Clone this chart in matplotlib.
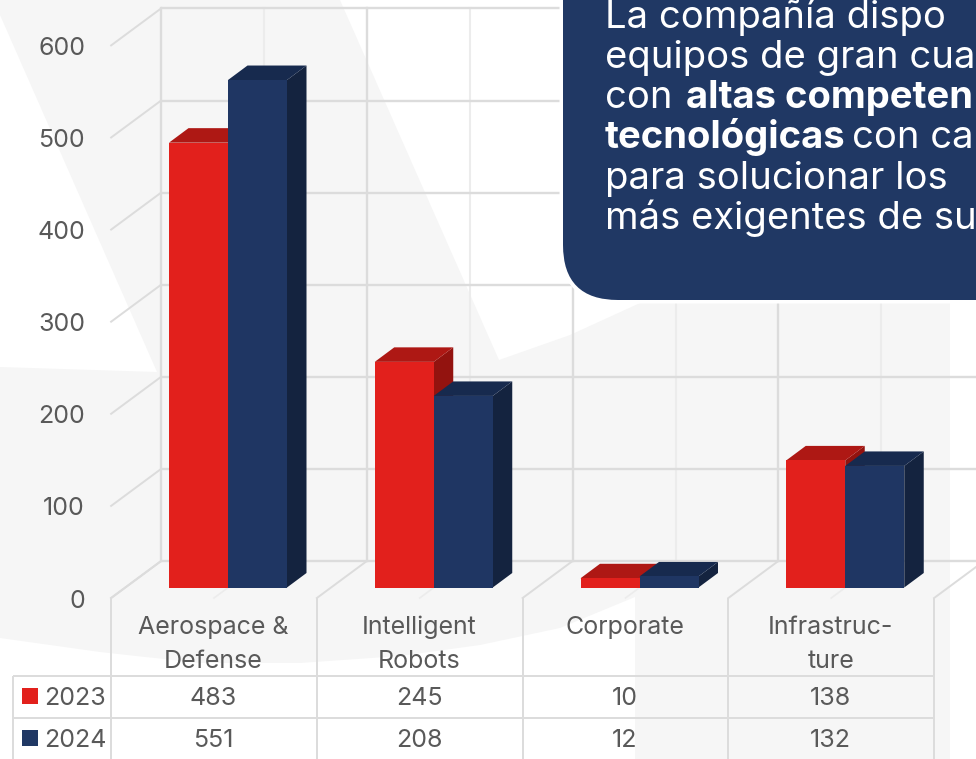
import matplotlib
matplotlib.use("Agg")
import matplotlib.pyplot as plt
import numpy as np
from matplotlib.patches import FancyBboxPatch, Polygon

# ---------- data ----------
categories = ["Aerospace &\nDefense", "Intelligent\nRobots", "Corporate", "Infrastruc-\nture"]
series_names = ["2023", "2024"]
values_2023 = [483, 245, 10, 138]
values_2024 = [551, 208, 12, 132]
y_ticks = [0, 100, 200, 300, 400, 500, 600]

W, H = 976, 759
C_GRID = "#dcdcdc"
C_MINOR = "#ececec"
C_TEXT = "#595959"
C_BG = "#f6f6f6"
NAVY = "#203864"
FONT = "Inter"
PX = 72 / 100  # points per pixel
FS = 25 * PX

fig = plt.figure(figsize=(W / 100, H / 100), dpi=100, facecolor="white")

# ---------- decorative background, in pixel coordinates ----------
bg = fig.add_axes([0, 0, 1, 1], zorder=0)
bg.set_xlim(0, W); bg.set_ylim(H, 0); bg.axis("off")
verts = [(0, 0), (340, 0), (499, 360), (570, 335), (640, 303), (950, 303), (950, 759), (635, 759),
         (635, 597), (560, 628), (480, 645), (400, 656), (300, 663), (200, 663), (100, 652), (0, 638),
         (0, 367), (157, 372), (0, 15), (0, 0)]
bg.add_patch(Polygon(verts, closed=True, fc=C_BG, ec="none"))

# ---------- chart axes: x in category units, y in value units ----------
X0, XU = 214.0, 205.75      # pixel of category 0, pixels per category
Y0, YU = 587.5, 0.921       # pixel of value 0, pixels per value
ax = fig.add_axes([0, 0, 1, 1], zorder=1)
ax.patch.set_alpha(0)
ax.set_xlim((0 - X0) / XU, (W - X0) / XU)
ax.set_ylim((Y0 - H) / YU, (Y0 - 0) / YU)
ax.axis("off")

px_x = lambda p: p / XU     # pixel length -> category units
px_y = lambda p: p / YU     # pixel length -> value units

n = len(categories)
WALL_DX = px_x(50)
BACK_UP = px_y(Y0 - 561)    # value-0 line on the back wall, relative to bar base
FRONT_DN = px_y(598 - Y0)   # value-0 line at the front edge
xl = -0.5
xr_lim = ax.get_xlim()[1]
top_v = max(y_ticks) + BACK_UP

lw_major = 1.7
# back wall
for t in y_ticks:
    ax.plot([xl + WALL_DX, xr_lim], [t + BACK_UP] * 2, color=C_GRID, lw=lw_major, zorder=1, solid_capstyle="butt")
    ax.plot([xl, xl + WALL_DX], [t - FRONT_DN, t + BACK_UP], color=C_GRID, lw=1.4, zorder=1)
for i in range(n + 1):
    ax.plot([xl + i + WALL_DX] * 2, [BACK_UP, top_v], color=C_GRID, lw=lw_major, zorder=1)
    ax.plot([xl + i + 0.5 + WALL_DX] * 2, [BACK_UP, top_v], color=C_MINOR, lw=1.5, zorder=0.9)
    ax.plot([xl + i, xl + i + WALL_DX], [-FRONT_DN, BACK_UP], color=C_GRID, lw=1.4, zorder=1)
    ax.plot([xl + i + 0.5, xl + i + 0.5 + WALL_DX], [-FRONT_DN, BACK_UP], color=C_MINOR, lw=1.2, zorder=0.9)

# ---------- 3D bars ----------
BAR_W = 59 / XU
DX, DY = px_x(19.5), px_y(14.5)
OFFSET = 14 / XU
styles = [("#e2201c", "#ae1814", "#93130f"), ("#1f3663", "#172a4e", "#14233f")]
for k, vals in enumerate([values_2023, values_2024]):
    front, top, side = styles[k]
    for i, v in enumerate(vals):
        x0 = i + OFFSET - BAR_W + k * BAR_W
        x1 = x0 + BAR_W
        z = 3 + k + i * 0.01
        ax.fill([x1, x1 + DX, x1 + DX, x1], [0, DY, v + DY, v], color=side, lw=0, zorder=z)
        ax.fill([x0, x1, x1 + DX, x0 + DX], [v, v, v + DY, v + DY], color=top, lw=0, zorder=z)
        ax.bar(x0, v, width=BAR_W, align="edge", color=front, lw=0, zorder=z + 0.001)

# y tick labels on the front edge of the side wall
for t in y_ticks:
    ax.text((85 - X0) / XU, t - FRONT_DN - px_y(0.5), str(t), ha="right", va="center_baseline",
            fontsize=FS, color=C_TEXT, family=FONT)

# ---------- category labels and data table, in pixel rows ----------
ov = fig.add_axes([0, 0, 1, 1], zorder=2)
ov.patch.set_alpha(0)
ov.set_xlim(0, W); ov.set_ylim(H, 0); ov.axis("off")

col_edges = [X0 + (xl + i) * XU for i in range(n + 1)]
col_centers = [X0 + i * XU for i in range(n)]
for x in col_edges:
    ov.plot([x, x], [598, H], color=C_GRID, lw=1.4, zorder=1, solid_capstyle="butt")
ov.plot([13, 13], [676, H], color=C_GRID, lw=1.4, zorder=1, solid_capstyle="butt")
for y in (676, 718):
    ov.plot([13, col_edges[-1]], [y, y], color=C_GRID, lw=1.4, zorder=1, solid_capstyle="butt")

for cx, label in zip(col_centers, categories):
    for j, line in enumerate(label.split("\n")):
        ov.text(cx - 0.5, 625 + j * 33.5, line, ha="center", va="center_baseline",
                fontsize=FS, color=C_TEXT, family=FONT)

rows = [(696, values_2023, "#e2201c"), (738, values_2024, NAVY)]
for (y, vals, col), name in zip(rows, series_names):
    ov.add_patch(Polygon([(22, y - 8), (38, y - 8), (38, y + 8), (22, y + 8)], closed=True, fc=col, ec="none"))
    ov.text(44, y, name, ha="left", va="center_baseline", fontsize=FS, color=C_TEXT, family=FONT)
    for cx, v in zip(col_centers, vals):
        ov.text(cx - 0.5, y, str(v), ha="center", va="center_baseline", fontsize=FS, color=C_TEXT, family=FONT)

# ---------- callout box ----------
ov.add_patch(FancyBboxPatch((559.5, -80), 600, 383.5, boxstyle="round,pad=0,rounding_size=58",
                            fc="white", ec="none", zorder=5))
ov.add_patch(FancyBboxPatch((563, -80), 600, 380, boxstyle="round,pad=0,rounding_size=55",
                            fc=NAVY, ec="none", zorder=5.1))
BOX_FS = 38.2 * PX
segments = [
    (605, 28, "La compañía dispo", "normal"),
    (605, 68, "equipos de gran cua", "normal"),
    (605, 108, "con", "normal"),
    (686, 108, "altas competen", "bold"),
    (605, 148, "tecnológicas", "bold"),
    (852, 148, "con ca", "normal"),
    (605, 189, "para solucionar los", "normal"),
    (605, 229, "más exigentes de su", "normal"),
]
for x, y, s, w in segments:
    ov.text(x, y, s, ha="left", va="baseline", fontsize=BOX_FS, color="white", family=FONT,
            fontweight=w, zorder=6, clip_on=True)

fig.savefig("out.png", dpi=100, facecolor="white")
